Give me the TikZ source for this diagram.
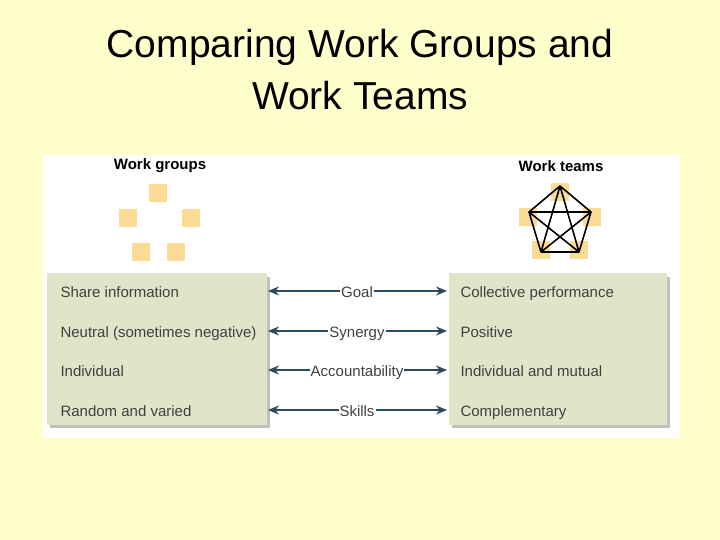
\documentclass[tikz,border=0pt]{standalone}
\usepackage{fontspec}
\setmainfont{Liberation Sans}
\usetikzlibrary{arrows.meta}
\begin{document}
\begin{tikzpicture}[x=1pt,y=-1pt,
  sq/.style={fill=sqc,minimum size=18pt,inner sep=0pt},
  lbl/.style={anchor=base west,font=\fontsize{15}{17}\selectfont,text=black!75},
  mid/.style={anchor=base,font=\fontsize{15}{17}\selectfont,text=black!75,fill=white,inner sep=1pt},
  arr/.style={draw=arc,line width=1.8pt,-{Stealth[length=11pt,width=9pt]}},
  box/.style={fill=boxc,draw=none}]
\definecolor{bg}{HTML}{FFFFCC}
\definecolor{sqc}{HTML}{FBDB95}
\definecolor{boxc}{HTML}{E1E4C9}
\definecolor{arc}{HTML}{2E4A5E}
\fill[bg] (0,0) rectangle (720,540);
\useasboundingbox (0,0) rectangle (720,540);
\node[font=\fontsize{39}{52}\selectfont,align=center] (title) at (360,70) {Comparing Work Groups and\\Work Teams};
\fill[white] (43,155) rectangle (680,438);
\node[font=\bfseries\fontsize{15}{17}\selectfont] (wg) at (160,166) {Work groups};
\node[font=\bfseries\fontsize{15}{17}\selectfont] (wt) at (561,166) {Work teams};
\node[sq] (g1) at (158,193) {};
\node[sq] (g2) at (128,218) {};
\node[sq] (g3) at (191,218) {};
\node[sq] (g4) at (141,252) {};
\node[sq] (g5) at (176,252) {};
\node[sq] (t1) at (560,192) {};
\node[sq] (t2) at (528,217) {};
\node[sq] (t3) at (592,217) {};
\node[sq] (t4) at (541,250) {};
\node[sq] (t5) at (579,250) {};
\coordinate (p1) at (560,186);
\coordinate (p2) at (529,212);
\coordinate (p3) at (591,212);
\coordinate (p4) at (541,252);
\coordinate (p5) at (579,252);
\draw[line width=1.6pt,line join=round] (p1)--(p2)--(p4)--(p5)--(p3)--cycle (p1)--(p4) (p1)--(p5) (p2)--(p3) (p2)--(p5) (p3)--(p4);
\fill[black!25] (50,277) rectangle (270,428);
\fill[black!25] (452,277) rectangle (670,428);
\fill[boxc] (47,273) rectangle (267,425);
\fill[boxc] (449,273) rectangle (667,425);
\node[lbl] (l1) at (57,297) {Share information};
\node[lbl] (l2) at (57,337) {Neutral (sometimes negative)};
\node[lbl] (l3) at (57,376) {Individual};
\node[lbl] (l4) at (57,416) {Random and varied};
\node[lbl] (r1) at (457,297) {Collective performance};
\node[lbl] (r2) at (457,337) {Positive};
\node[lbl] (r3) at (457,376) {Individual and mutual};
\node[lbl] (r4) at (457,416) {Complementary};
\foreach \i/\t/\y in {1/Goal/291,2/Synergy/331,3/Accountability/370,4/Skills/410}{
  \coordinate (a\i) at (268,\y); \coordinate (b\i) at (447,\y);
  \draw[arr] (357,\y)--(a\i); \draw[arr] (357,\y)--(b\i);
  \node[mid] (m\i) at (357,\y+6) {\t};
}
\end{tikzpicture}
\end{document}
